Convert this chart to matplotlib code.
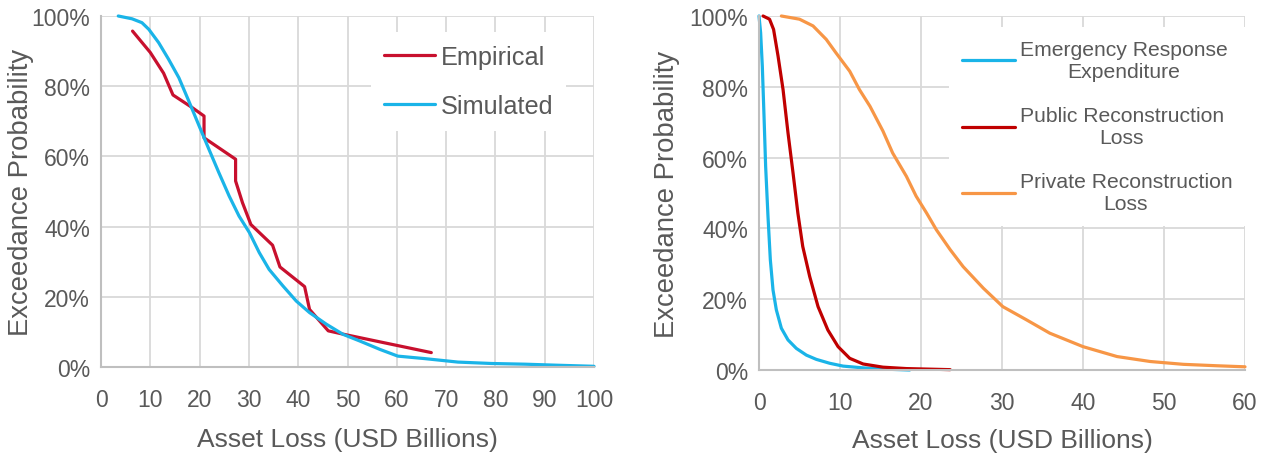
import matplotlib
matplotlib.use("Agg")
import matplotlib.pyplot as plt
from matplotlib.ticker import PercentFormatter

plt.rcParams['font.family'] = ['Liberation Sans', 'DejaVu Sans']

# ---- Left panel data ----
emp_x = [6.4, 10.0, 12.7, 14.6, 18.5, 20.9, 20.9, 27.3, 27.3, 28.7, 30.4, 34.8, 36.3, 41.3, 42.3, 46.1, 49.3, 67.0]
emp_y = [95.7, 89.6, 83.7, 77.5, 73.9, 71.5, 65.3, 59.2, 53.0, 46.8, 40.6, 34.7, 28.5, 22.9, 16.4, 10.3, 9.3, 4.1]

sim_x = [3.5, 6.3, 8.3, 9.7, 11.7, 13.7, 15.8, 17.8, 19.9, 21.9, 23.9, 26.0, 28.0, 30.1, 32.1, 34.1,
         36.9, 39.6, 42.3, 45.7, 49.1, 52.5, 56.6, 60.2, 65.6, 72.4, 79.2, 86.0, 92.7, 100.0]
sim_y = [100.0, 99.2, 98.1, 96.2, 92.4, 87.7, 82.4, 75.8, 68.7, 62.0, 55.4, 48.7, 43.0, 38.3, 32.6, 27.8,
         23.1, 18.8, 15.5, 12.2, 9.3, 7.4, 5.0, 3.1, 2.4, 1.4, 1.0, 0.8, 0.5, 0.2]

# ---- Right panel data ----
emer_x = [0.0, 0.2, 0.41, 0.62, 0.82, 1.11, 1.40, 1.73, 2.14, 2.76, 3.58, 4.61, 5.85, 7.08, 8.73, 10.38, 12.85, 16.1, 18.6]
emer_y = [100.0, 95.3, 85.8, 71.7, 57.5, 43.4, 31.1, 22.6, 17.0, 11.8, 8.5, 6.1, 4.2, 3.0, 1.9, 1.1, 0.6, 0.2, 0.0]

pub_x = [0.5, 1.3, 1.8, 2.35, 2.97, 3.58, 4.2, 4.8, 5.4, 6.26, 7.29, 8.5, 9.76, 11.2, 12.85, 15.3, 18.2, 23.6]
pub_y = [100.0, 99.1, 96.2, 88.7, 79.2, 67.0, 55.7, 44.3, 34.9, 26.4, 17.9, 11.3, 6.6, 3.3, 1.7, 0.8, 0.4, 0.1]

priv_x = [2.76, 5.0, 6.67, 8.3, 9.5, 11.2, 12.4, 13.7, 15.3, 16.5, 18.2, 19.4, 20.7, 21.9, 23.6, 25.2,
          27.7, 30.1, 33.0, 35.9, 40.0, 44.2, 48.3, 52.4, 56.5, 60.0]
priv_y = [100.0, 99.1, 97.2, 93.4, 89.6, 84.4, 79.2, 74.5, 67.5, 61.3, 54.7, 49.1, 44.3, 39.6, 34.0, 29.2,
          23.1, 17.9, 14.2, 10.4, 6.6, 3.8, 2.4, 1.6, 1.2, 0.9]

left_xticks = [0, 10, 20, 30, 40, 50, 60, 70, 80, 90, 100]
right_xticks = [0, 10, 20, 30, 40, 50, 60]
yticks = [0, 20, 40, 60, 80, 100]

TXT = '#595959'
GRID = '#d9d9d9'
SPINE = '#bfbfbf'

fig = plt.figure(figsize=(12.68, 4.56), dpi=100)
ax1 = fig.add_axes([101/1268, 1-368/456, 493/1268, 351/456])
ax2 = fig.add_axes([759/1268, 1-371/456, 486/1268, 354/456])


def style(ax, xticks, xmax, ylabelpad, xlabelpad):
    ax.set_xlim(0, xmax)
    ax.set_ylim(0, 100)
    ax.set_xticks(xticks)
    ax.set_yticks(yticks)
    ax.yaxis.set_major_formatter(PercentFormatter(decimals=0))
    ax.grid(True, color=GRID, linewidth=1.3)
    ax.set_axisbelow(True)
    for s in ['top', 'right']:
        ax.spines[s].set_visible(False)
    for s in ['left', 'bottom']:
        ax.spines[s].set_color(SPINE)
        ax.spines[s].set_linewidth(1.5)
    ax.tick_params(length=0, labelsize=16.5, colors=TXT, pad=8)
    ax.tick_params(axis='x', pad=15)
    ax.set_xlabel('Asset Loss (USD Billions)', fontsize=19, color=TXT, labelpad=xlabelpad)
    ax.set_ylabel('Exceedance Probability', fontsize=19.8, color=TXT, labelpad=ylabelpad)


style(ax1, left_xticks, 100, -2, 12)
style(ax2, right_xticks, 60, 6.7, 10)

kw = dict(lw=2.3, solid_joinstyle='round', solid_capstyle='round', clip_on=False)
ax1.plot(emp_x, emp_y, color='#c8102e', label='Empirical', **kw)
ax1.plot(sim_x, sim_y, color='#1ab4e8', label='Simulated', **kw)
leg1 = ax1.legend(loc='upper left', bbox_to_anchor=(0.522, 0.99), fontsize=18.2,
                  frameon=True, facecolor='white', edgecolor='none', framealpha=1,
                  fancybox=False, handlelength=2.05, handletextpad=0.2,
                  labelspacing=1.0, borderpad=0.5)
for t in leg1.get_texts():
    t.set_color(TXT)

ax2.plot(emer_x, emer_y, color='#1ab4e8', label='Emergency Response\nExpenditure', **kw)
ax2.plot(pub_x, pub_y, color='#c00000', label='Public Reconstruction\nLoss', **kw)
ax2.plot(priv_x, priv_y, color='#f79646', label='Private Reconstruction\nLoss', **kw)
leg2 = ax2.legend(loc='upper left', bbox_to_anchor=(0.369, 0.999), fontsize=15.2,
                  frameon=True, facecolor='white', edgecolor='none', framealpha=1,
                  fancybox=False, handlelength=2.55, handletextpad=0.2,
                  labelspacing=1.2, borderpad=0.6)
for t in leg2.get_texts():
    t.set_color(TXT)
    t.set_multialignment('center')

fig.savefig('out.png', dpi=100, facecolor='white')
